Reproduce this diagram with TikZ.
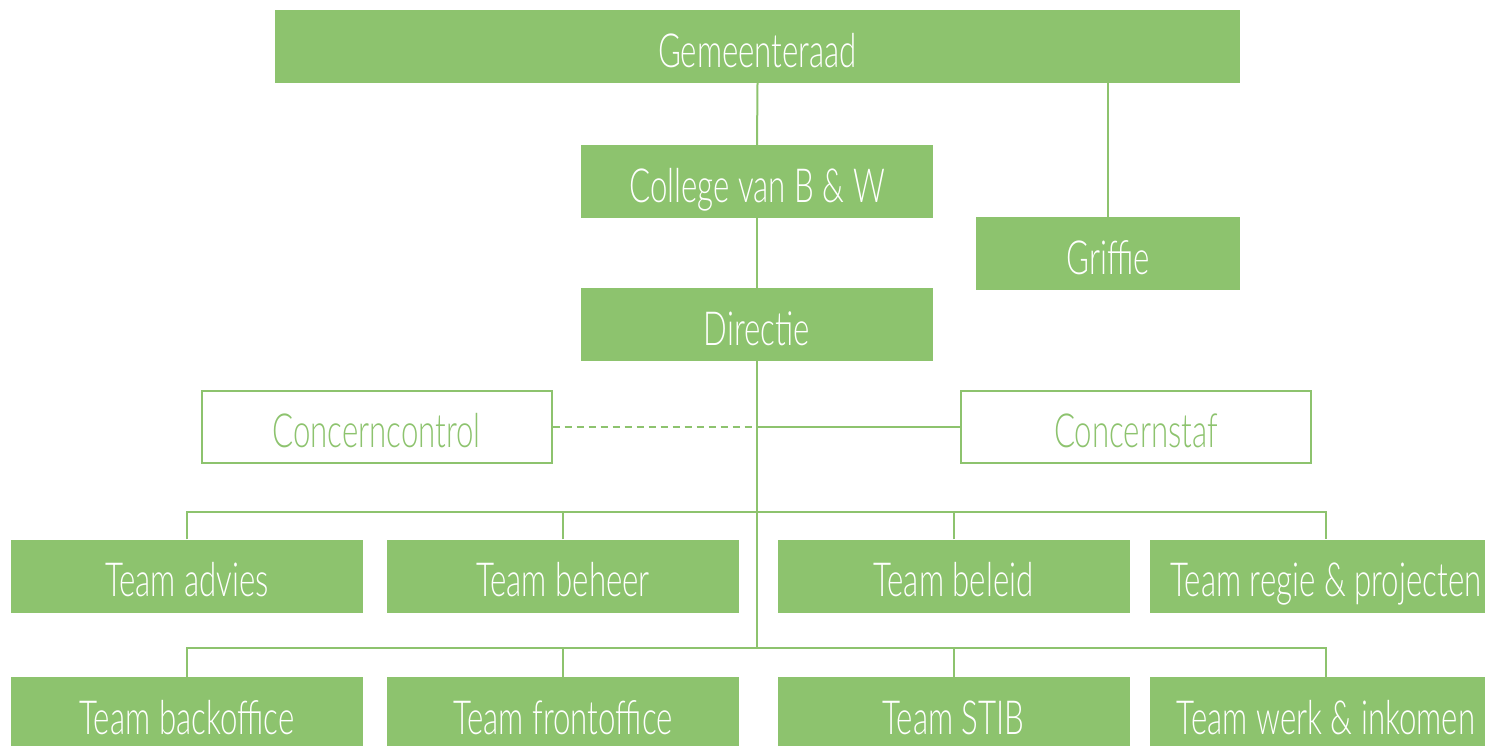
\documentclass[tikz,border=0pt]{standalone}
\usepackage{fontspec}
\setmainfont{Lato Light}[FakeStretch=0.665]
\definecolor{gfill}{HTML}{8DC36E}
\definecolor{gline}{HTML}{8DC36E}
\begin{document}
\begin{tikzpicture}[x=1pt,y=-1pt,
  box/.style={fill=gfill,draw=none,text=white,inner sep=0pt,minimum width=352pt,minimum height=73pt,text height=41pt,text depth=0pt,font=\fontsize{47}{50}\selectfont},
  obox/.style={fill=white,draw=gline,line width=2pt,text=gline,inner sep=0pt,minimum width=350pt,minimum height=72pt,text height=41pt,text depth=0pt,font=\fontsize{47}{50}\selectfont},
  conn/.style={draw=gline,line width=2pt},
  dconn/.style={draw=gline,line width=2pt,dash pattern=on 7pt off 5pt}]
\useasboundingbox (0,0) rectangle (1485,745);
\clip (0,0) rectangle (1485,745);
% nodes
\node[box,minimum width=965pt] (gem) at (757.5,46.5) {Gemeenteraad};
\node[box] (col) at (757,181.5) {College van B \& W};
\node[box,minimum width=264pt] (gri) at (1108,253.5) {Griffie};
\node[box] (dir) at (757,324.5) {Directie};
\node[obox] (cc) at (376.5,426.5) {Concerncontrol};
\node[obox] (cs) at (1136,426.5) {Concernstaf};
\node[box] (ta) at (187,576) {Team advies};
\node[box] (tb) at (563,576) {Team beheer};
\node[box] (tl) at (953.5,576) {Team beleid};
\node[box] (tr) at (1326,576) {Team regie \& projecten};
\node[box] (tbo) at (187,713.5) {Team backoffice};
\node[box] (tfo) at (563,713.5) {Team frontoffice};
\node[box] (ts) at (953.5,713.5) {Team STIB};
\node[box] (tw) at (1326,713.5) {Team werk \& inkomen};
% helper coordinates
\coordinate (gri-top) at (1108,83);
\coordinate (trunk-cc) at (757,426.5);
\coordinate (bus1) at (757,512);
\coordinate (bus2) at (757,648);
% connectors
\draw[conn] (gem.south) -- (col.north);
\draw[conn] (col.south) -- (dir.north);
\draw[conn] (gri-top) -- (gri.north);
\draw[conn] (dir.south) -- (bus2);
\draw[dconn] (cc.east) -- (trunk-cc);
\draw[conn] (trunk-cc) -- (cs.west);
\draw[conn] (ta.north) |- (bus1) -| (tr.north);
\draw[conn] (tb.north) -- (tb.north |- bus1);
\draw[conn] (tl.north) -- (tl.north |- bus1);
\draw[conn] (tbo.north) |- (bus2) -| (tw.north);
\draw[conn] (tfo.north) -- (tfo.north |- bus2);
\draw[conn] (ts.north) -- (ts.north |- bus2);
\end{tikzpicture}
\end{document}
